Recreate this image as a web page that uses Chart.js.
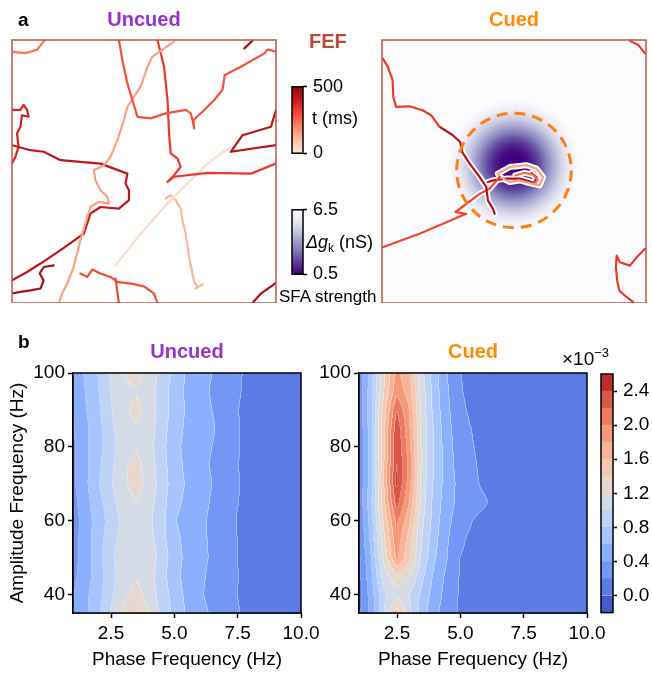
<!DOCTYPE html>
<html>
<head>
<meta charset="utf-8">
<script src="https://cdn.jsdelivr.net/npm/chart.js@4.4.1/dist/chart.umd.min.js"></script>
<style>
  html, body { margin: 0; padding: 0; background: #fff; }
  body { position: relative; width: 652px; height: 674px; overflow: hidden;
         font-family: "Liberation Sans", Arial, sans-serif; color: #000; }
  canvas { position: absolute; }
  .lbl { position: absolute; white-space: nowrap; line-height: 1; }
</style>
</head>
<body>
<canvas id="trajUncued" width="276" height="303" style="left:11px;top:0px"></canvas>
<canvas id="trajCued" width="276" height="303" style="left:381px;top:0px"></canvas>
<canvas id="cbarTime" width="94" height="100" style="left:286px;top:70px"></canvas>
<canvas id="cbarSfa" width="94" height="98" style="left:286px;top:193px"></canvas>
<canvas id="pacUncued" width="330" height="344" style="left:0px;top:330px"></canvas>
<canvas id="pacCued" width="320" height="344" style="left:290px;top:330px"></canvas>
<canvas id="cbarPac" width="62" height="290" style="left:590px;top:340px"></canvas>

<div class="lbl" style="left:18px;top:10px;font-size:19px;font-weight:bold">a</div>
<div class="lbl" style="left:18px;top:332px;font-size:19px;font-weight:bold">b</div>
<div class="lbl" style="left:309px;top:31px;font-size:20px;font-weight:bold;color:#b84a3e">FEF</div>
<div class="lbl" style="left:312px;top:109px;font-size:18px">t (ms)</div>
<div class="lbl" style="left:306px;top:233px;font-size:18px"><i>Δg</i><span style="font-size:12px;position:relative;top:4px">k</span> (nS)</div>
<div class="lbl" style="left:279px;top:288px;font-size:17px">SFA strength</div>
<div class="lbl" style="left:562px;top:349px;font-size:19px">×10<span style="font-size:13px;position:relative;top:-8px">−3</span></div>

<script>
// ---------- Panel a: activity-bump trajectories (sheet coords 0-100), colour = time (ms)
const uncuedTimes = [230, 290, 150, 330, 420, 380, 430, 35, 110, 300, 300, 470, 460, 470];
const uncuedPaths = [
  [[0,95.6],[2,95.3],[5,95],[9.5,96.3],[12,99.5],[12.5,100]],
  [[40.5,100],[41.8,92.4],[43.7,83.5],[45.6,77.2],[47.5,70.8],[52.5,70.2],[58.2,72.1],[65.8,73.4],[67.7,72.1],[68.4,69.5],[69,66.4],[68.7,69.5],[72.8,73.4],[76.6,77.2],[79.7,81],[80.6,86.7],[86.7,89.8],[95.6,94.9],[96.8,96.4],[100,95.6]],
  [[61.4,99.4],[53.2,93.7],[51.3,89.8],[48.7,82.2],[43.7,74.6],[42.4,69.5],[39.9,61.9],[37.3,55.6],[34.8,52.4],[31,50.5],[31.6,46.7],[33.5,42.9],[36.1,40.4],[36.7,37.8],[32.9,38.5],[29.7,36.5],[25.9,23.9],[23.4,13.7],[20.9,7.4],[19,3.6],[17.7,0]],
  [[55.1,100],[57.6,89.8],[58.9,77.2],[59.5,64.5],[60.1,56.9],[62.7,54.9],[63.9,51.8],[61.4,48.6],[58.9,46.1],[61.4,48],[74.1,49.5],[90.5,49.2],[100,53]],
  [[0,60],[7,58.1],[12,57.5],[18.4,54.3],[33.5,53],[43.7,49.2],[43,45.4],[44.3,42.9],[44.3,39.1],[40.5,35.9],[33.5,36.5],[29.7,34],[27.2,26.4],[18.4,20.1],[10.8,15],[5.7,11.8],[0,8.6]],
  [[0,73.4],[3.2,73.4],[4.4,75.3],[5.7,73.4],[6.3,70.8],[3.8,71.4],[3.2,67],[1.9,64.5],[2.5,59.4],[1.3,55.6],[0,53]],
  [[100,73.4],[98.1,67],[87.3,63.8],[82.9,57.5],[100,60]],
  [[39.2,14.3],[46.2,23.2],[53.8,32.1],[58.9,37.8],[61.4,40.4],[67.7,46.7],[74.1,53],[79.1,56.9],[82.3,58.8]],
  [[58.2,39.7],[60.1,41],[62,39.1],[63.9,35.9],[64.6,31.5],[65.8,26.4],[67.1,17.5],[69,8],[70.3,6.1],[72.2,7.1],[69.6,5.5]],
  [[25.9,11.2],[28.5,9.9],[30.4,12.7],[33.5,11.2],[37.3,9.9],[39.9,8],[44.9,7.4],[50,6.3],[53.8,3.6],[55.1,0]],
  [[39.2,9.3],[40.5,0]],
  [[0,3.6],[3.2,4.2],[7,4.8],[10.8,5.5],[12,8.6],[10.5,11.2],[12,13.7],[15.8,14.3]],
  [[91.1,0],[94.3,3.6],[100,7.6]],
  [[88,96.8],[91.1,99.7]]
];

const cuedTimes = [330, 440, 310, 150, 250, 460, 330, 320];
const cuedPaths = [
  [[0.3,93],[2.2,89.8],[4,84.8],[4.3,78.4],[5.3,74.6],[10.4,74.8],[15.4,73.3],[18.6,71.4],[21.8,67]],
  [[21.8,67],[26.8,63.8],[29.6,61.2],[30.4,57.4],[33.2,53],[37,47.9],[39.5,44.1],[40.1,39],[42,35.8],[42.7,33.9]],
  [[0.3,21.2],[14.2,26.3],[31.9,33.9],[27.8,34.6],[37,41.5],[40.8,43.5],[44.6,47.9]],
  [[43.9,49.2],[48.4,51.7],[54.7,52.4],[58.5,51.1],[61,47.9],[59.7,44.7],[55.9,45.6],[52.2,46.6],[48.4,46],[44.6,47.9],[43.9,49.2]],
  [[50.5,48.5],[54,49.5],[57,48.8],[59,47],[58,45.5]],
  [[40.1,46],[42,46.6],[47.1,47.3],[52.2,47.3],[54.7,46.6],[57.8,45.6],[58.5,47.9],[56.6,49.4]],
  [[99.6,20.6],[96.5,17.4],[93.9,14.2],[90.1,15.5],[88.9,18],[88.6,13.6],[89.1,8.5],[89.9,4.7],[92.7,2.2],[95.2,0.3]],
  [[93.9,99.7],[97.1,98.1],[99.6,94.9]]
];

// SFA field (Δg_k) and cue location in the cued trial
const blobCenter = [49.8, 52.5];
const blobRadius = 25;
const cueCenter = [50, 50.4];
const cueRadius = 21.7;

// colorbar ticks
const timeTicks = [0, 500];
const sfaTicks = [0.5, 6.5];

// ---------- Panel b: phase-amplitude coupling (×1e-3), rows = amplitude freq, cols = phase freq
const phaseFreqs = [1, 1.5, 2, 2.5, 3, 3.5, 4, 4.5, 5, 5.5, 6, 6.5, 7, 7.5, 8, 8.5, 9, 9.5, 10];
const ampFreqs = [35, 40, 45, 50, 55, 60, 65, 70, 75, 80, 85, 90, 95, 100];
const phaseTicks = [2.5, 5, 7.5, 10];
const ampTicks = [40, 60, 80, 100];

const pacUncued = [
  [0.40,0.55,0.75,1.00,1.25,1.45,1.20,0.95,0.75,0.58,0.45,0.38,0.32,0.22,0.12,0.10,0.10,0.10,0.10],
  [0.38,0.55,0.72,0.95,1.15,1.28,1.12,0.92,0.72,0.55,0.42,0.36,0.30,0.20,0.12,0.10,0.10,0.10,0.10],
  [0.35,0.50,0.70,0.92,1.10,1.18,1.10,0.88,0.68,0.52,0.44,0.36,0.30,0.21,0.12,0.10,0.10,0.10,0.10],
  [0.32,0.48,0.72,0.95,1.12,1.18,1.15,0.92,0.70,0.55,0.45,0.38,0.32,0.20,0.11,0.10,0.10,0.10,0.10],
  [0.30,0.50,0.70,0.92,1.08,1.15,1.08,0.88,0.66,0.54,0.45,0.37,0.31,0.20,0.11,0.10,0.10,0.10,0.10],
  [0.28,0.50,0.68,0.88,1.05,1.15,1.05,0.88,0.62,0.52,0.45,0.36,0.30,0.19,0.11,0.10,0.10,0.10,0.10],
  [0.32,0.52,0.72,0.92,1.10,1.20,1.08,0.90,0.66,0.56,0.48,0.38,0.31,0.21,0.12,0.10,0.10,0.10,0.10],
  [0.35,0.55,0.78,0.98,1.15,1.30,1.12,0.92,0.70,0.58,0.50,0.40,0.32,0.22,0.12,0.10,0.10,0.10,0.10],
  [0.35,0.55,0.75,0.95,1.15,1.28,1.10,0.90,0.68,0.56,0.47,0.38,0.30,0.21,0.12,0.10,0.10,0.10,0.10],
  [0.35,0.55,0.72,0.92,1.10,1.18,1.08,0.88,0.66,0.55,0.48,0.40,0.33,0.22,0.12,0.10,0.10,0.10,0.10],
  [0.38,0.55,0.72,0.95,1.12,1.18,1.10,0.90,0.70,0.56,0.50,0.42,0.34,0.22,0.12,0.10,0.10,0.10,0.10],
  [0.40,0.58,0.75,0.98,1.15,1.26,1.12,0.92,0.72,0.58,0.48,0.40,0.33,0.21,0.12,0.10,0.10,0.10,0.10],
  [0.42,0.60,0.78,1.00,1.15,1.18,1.10,0.90,0.72,0.56,0.47,0.38,0.32,0.23,0.13,0.10,0.10,0.10,0.10],
  [0.45,0.62,0.80,1.02,1.20,1.30,1.12,0.95,0.75,0.58,0.50,0.40,0.33,0.24,0.14,0.10,0.10,0.10,0.10]
];

const pacCued = [
  [0.15,0.45,1.00,1.50,1.05,0.70,0.45,0.30,0.18,0.12,0.10,0.08,0.08,0.08,0.08,0.08,0.08,0.08,0.08],
  [0.10,0.50,0.95,1.15,1.00,0.75,0.50,0.32,0.18,0.12,0.10,0.08,0.08,0.08,0.08,0.08,0.08,0.08,0.08],
  [0.12,0.55,1.10,1.35,1.20,0.85,0.55,0.35,0.19,0.12,0.10,0.08,0.08,0.08,0.08,0.08,0.08,0.08,0.08],
  [0.15,0.60,1.25,1.85,1.45,0.95,0.62,0.40,0.20,0.14,0.10,0.08,0.08,0.08,0.08,0.08,0.08,0.08,0.08],
  [0.18,0.65,1.35,1.95,1.50,1.00,0.66,0.42,0.24,0.15,0.11,0.08,0.08,0.08,0.08,0.08,0.08,0.08,0.08],
  [0.20,0.70,1.45,2.05,1.65,1.05,0.70,0.45,0.30,0.20,0.14,0.09,0.08,0.08,0.08,0.08,0.08,0.08,0.08],
  [0.22,0.75,1.55,2.30,1.80,1.10,0.72,0.48,0.34,0.26,0.22,0.10,0.08,0.08,0.08,0.08,0.08,0.08,0.08],
  [0.22,0.72,1.60,2.45,1.90,1.12,0.75,0.50,0.34,0.24,0.16,0.09,0.08,0.08,0.08,0.08,0.08,0.08,0.08],
  [0.20,0.70,1.60,2.42,1.95,1.15,0.78,0.48,0.32,0.23,0.14,0.09,0.08,0.08,0.08,0.08,0.08,0.08,0.08],
  [0.20,0.70,1.55,2.40,1.90,1.15,0.78,0.48,0.30,0.21,0.12,0.09,0.08,0.08,0.08,0.08,0.08,0.08,0.08],
  [0.22,0.72,1.55,2.35,1.85,1.15,0.76,0.46,0.28,0.19,0.11,0.08,0.08,0.08,0.08,0.08,0.08,0.08,0.08],
  [0.25,0.75,1.50,2.20,1.80,1.12,0.72,0.44,0.25,0.15,0.10,0.08,0.08,0.08,0.08,0.08,0.08,0.08,0.08],
  [0.25,0.72,1.40,1.95,1.70,1.10,0.70,0.42,0.22,0.13,0.10,0.08,0.08,0.08,0.08,0.08,0.08,0.08,0.08],
  [0.25,0.70,1.35,1.85,1.65,1.05,0.68,0.40,0.21,0.12,0.10,0.08,0.08,0.08,0.08,0.08,0.08,0.08,0.08]
];

const pacLevels = [-0.2, 0, 0.2, 0.4, 0.6, 0.8, 1.0, 1.2, 1.4, 1.6, 1.8, 2.0, 2.2, 2.4, 2.6];
const pacTicks = [0, 0.4, 0.8, 1.2, 1.6, 2.0, 2.4];

// ---------- colours
const bandColors = [
  [69,92,206],[92,123,229],[116,150,245],[141,176,254],[166,196,254],[190,211,246],[212,219,231],
  [230,215,207],[243,201,180],[247,180,151],[244,154,123],[234,123,96],[217,87,71],[194,43,48]
];
const redsStops = ['#fff5f0','#fee0d2','#fcbba1','#fc9272','#fb6a4a','#ef3b2c','#cb181d','#a50f15','#67000d'];
const sfaColors = ['#3f007d','#3f007d','#44087f','#522590','#654ea2','#8682bc','#aaa8d2','#cccbe3','#e6e4f0','#f5f3f9','#fcfbfd'];
const purplesStops = ['#3f007d','#54278f','#6a51a3','#807dba','#9e9ac8','#bcbddc','#dadaeb','#efedf5','#fcfbfd'];

const FONT = '"Liberation Sans", Arial, sans-serif';
Chart.defaults.font.family = FONT;
Chart.defaults.color = '#000';

function hexToRgb(h) {
  return [parseInt(h.slice(1, 3), 16), parseInt(h.slice(3, 5), 16), parseInt(h.slice(5, 7), 16)];
}

function sampleStops(stops, f) {
  f = Math.max(0, Math.min(1, f));
  const p = f * (stops.length - 1);
  const i = Math.min(Math.floor(p), stops.length - 2);
  const a = hexToRgb(stops[i]), b = hexToRgb(stops[i + 1]), k = p - i;
  return `rgb(${a.map((v, j) => Math.round(v + (b[j] - v) * k)).join(',')})`;
}

// time 0..500 ms -> Reds
function redsColor(t) {
  return sampleStops(redsStops, 0.08 + 0.84 * t / 500);
}

// ---------- shared plugins
const boxFrame = (color, width) => ({
  id: 'boxFrame',
  afterDraw(chart) {
    const {ctx, chartArea: a} = chart;
    ctx.save();
    ctx.strokeStyle = color;
    ctx.lineWidth = width;
    ctx.strokeRect(a.left, a.top, a.right - a.left, a.bottom - a.top);
    ctx.restore();
  }
});

// SFA field + cue circle for the cued trial
const sfaField = {
  id: 'sfaField',
  beforeDatasetsDraw(chart) {
    const {ctx, chartArea: a, scales: {x, y}} = chart;
    ctx.save();
    ctx.fillStyle = sfaColors[sfaColors.length - 1];
    ctx.fillRect(a.left, a.top, a.right - a.left, a.bottom - a.top);
    const cx = x.getPixelForValue(blobCenter[0]);
    const cy = y.getPixelForValue(blobCenter[1]);
    const r = x.getPixelForValue(blobCenter[0] + blobRadius) - cx;
    const g = ctx.createRadialGradient(cx, cy, 0, cx, cy, r);
    sfaColors.forEach((c, i) => g.addColorStop(i / (sfaColors.length - 1), c));
    ctx.fillStyle = g;
    ctx.beginPath();
    ctx.arc(cx, cy, r, 0, Math.PI * 2);
    ctx.fill();
    ctx.restore();
  },
  afterDatasetsDraw(chart) {
    const {ctx, scales: {x, y}} = chart;
    const cx = x.getPixelForValue(cueCenter[0]);
    const cy = y.getPixelForValue(cueCenter[1]);
    const r = x.getPixelForValue(cueCenter[0] + cueRadius) - cx;
    ctx.save();
    ctx.strokeStyle = '#ff7f0e';
    ctx.lineWidth = 3;
    ctx.setLineDash([11, 7]);
    ctx.beginPath();
    ctx.arc(cx, cy, r, 0, Math.PI * 2);
    ctx.stroke();
    ctx.restore();
  }
};

function trajDatasets(paths, times, halo) {
  const sets = [];
  paths.forEach((p, i) => {
    const pts = p.map(([x, y]) => ({x, y}));
    if (halo) sets.push({data: pts, borderColor: '#ffffff', borderWidth: 6, order: 1, clip: 0});
    sets.push({data: pts, borderColor: redsColor(times[i]), borderWidth: 2.2, order: 0, clip: 0});
  });
  return sets;
}

function trajChart(id, title, color, paths, times, cued) {
  return new Chart(document.getElementById(id), {
    type: 'line',
    data: {datasets: trajDatasets(paths, times, cued)},
    options: {
      responsive: false, animation: false, events: [],
      layout: {padding: {left: 1, right: 11, bottom: 0}},
      elements: {
        point: {radius: 0},
        line: {tension: 0, borderJoinStyle: 'round', borderCapStyle: 'round'}
      },
      scales: {
        x: {type: 'linear', min: 0, max: 100, display: false},
        y: {type: 'linear', min: 0, max: 100, display: false}
      },
      plugins: {
        legend: {display: false},
        tooltip: {enabled: false},
        title: {display: true, text: title, color, font: {size: 20, weight: 'bold'}, padding: {top: 8, bottom: 8}}
      }
    },
    plugins: cued ? [sfaField, boxFrame('#bf5549', 1.5)] : [boxFrame('#bf5549', 1.5)]
  });
}

// gradient colour bar (t and Δg)
function gradientBar(id, stops, min, max, ticks, fmt, padTop, padBottom) {
  const fill = {
    id: 'gradFill',
    beforeDatasetsDraw(chart) {
      const {ctx, chartArea: a, scales: {y}} = chart;
      const g = ctx.createLinearGradient(0, y.getPixelForValue(min), 0, y.getPixelForValue(max));
      stops.forEach((c, i) => g.addColorStop(i / (stops.length - 1), c));
      ctx.save();
      ctx.fillStyle = g;
      ctx.fillRect(a.left, a.top, a.right - a.left, a.bottom - a.top);
      ctx.restore();
    }
  };
  return new Chart(document.getElementById(id), {
    type: 'scatter',
    data: {datasets: []},
    options: {
      responsive: false, animation: false, events: [],
      layout: {padding: {left: 6, top: padTop, bottom: padBottom}},
      plugins: {legend: {display: false}, tooltip: {enabled: false}},
      scales: {
        x: {display: false, min: 0, max: 1},
        y: {
          position: 'right', min, max,
          afterBuildTicks: s => { s.ticks = ticks.map(v => ({value: v})); },
          afterFit: s => { s.width = 77; },
          ticks: {callback: fmt, font: {size: 18}, color: '#000', padding: 6},
          grid: {drawOnChartArea: false, drawTicks: true, tickLength: 4, tickWidth: 1.5, tickColor: '#000'},
          border: {display: false}
        }
      }
    },
    plugins: [fill, boxFrame('#000', 1.5)]
  });
}

// ---------- panel b: filled contours
function locate(arr, v) {
  let i = 0;
  while (i < arr.length - 2 && v > arr[i + 1]) i++;
  const f = Math.max(0, Math.min(1, (v - arr[i]) / (arr[i + 1] - arr[i])));
  return [i, i + 1, f];
}

function bandOf(v) {
  let b = 0;
  while (b < pacLevels.length - 2 && v >= pacLevels[b + 1]) b++;
  return b;
}

function contourPlugin(values) {
  return {
    id: 'contourFill',
    beforeDatasetsDraw(chart) {
      const {ctx, chartArea: a, scales: {x, y}} = chart;
      const x0 = Math.round(a.left), y0 = Math.round(a.top);
      const w = Math.round(a.right) - x0, h = Math.round(a.bottom) - y0;
      const bands = new Int16Array(w * h);
      for (let j = 0; j < h; j++) {
        const [r0, r1, fy] = locate(ampFreqs, y.getValueForPixel(y0 + j + 0.5));
        for (let i = 0; i < w; i++) {
          const [c0, c1, fx] = locate(phaseFreqs, x.getValueForPixel(x0 + i + 0.5));
          const lo = values[r0][c0] * (1 - fx) + values[r0][c1] * fx;
          const hi = values[r1][c0] * (1 - fx) + values[r1][c1] * fx;
          bands[j * w + i] = bandOf(lo * (1 - fy) + hi * fy);
        }
      }
      const img = ctx.createImageData(w, h);
      for (let k = 0; k < w * h; k++) {
        const b = bands[k];
        const edge = ((k % w) < w - 1 && bands[k + 1] !== b) || (k + w < w * h && bands[k + w] !== b);
        const c = bandColors[b];
        const m = edge ? 0.3 : 0;
        img.data[4 * k] = c[0] + (255 - c[0]) * m;
        img.data[4 * k + 1] = c[1] + (255 - c[1]) * m;
        img.data[4 * k + 2] = c[2] + (255 - c[2]) * m;
        img.data[4 * k + 3] = 255;
      }
      ctx.putImageData(img, x0, y0);
    }
  };
}

function pacChart(id, title, color, values, yWidth, padRight, yTitle) {
  const tickGrid = {drawOnChartArea: false, drawTicks: true, tickLength: 5, tickWidth: 1.5, tickColor: '#000'};
  return new Chart(document.getElementById(id), {
    type: 'scatter',
    data: {datasets: []},
    options: {
      responsive: false, animation: false, events: [],
      layout: {padding: {right: padRight}},
      plugins: {
        legend: {display: false},
        tooltip: {enabled: false},
        title: {display: true, text: title, color, fullSize: false, font: {size: 20, weight: 'bold'}, padding: {top: 10, bottom: 9}}
      },
      scales: {
        x: {
          type: 'linear', min: 1, max: 10,
          afterBuildTicks: s => { s.ticks = phaseTicks.map(v => ({value: v})); },
          afterFit: s => { s.height = 61; },
          ticks: {callback: v => v.toFixed(1), font: {size: 19}, color: '#000', padding: 4, maxRotation: 0},
          grid: tickGrid,
          border: {display: true, color: '#000', width: 1.5},
          title: {display: true, text: 'Phase Frequency (Hz)', font: {size: 19}, color: '#000', padding: {top: 0, bottom: 3}}
        },
        y: {
          type: 'linear', min: 35, max: 100,
          afterBuildTicks: s => { s.ticks = ampTicks.map(v => ({value: v})); },
          afterFit: s => { s.width = yWidth; },
          ticks: {font: {size: 19}, color: '#000', padding: 3},
          grid: tickGrid,
          border: {display: true, color: '#000', width: 1.5},
          title: {display: yTitle, text: 'Amplitude Frequency (Hz)', font: {size: 19}, color: '#000', padding: {top: 6, bottom: 0}}
        }
      }
    },
    plugins: [contourPlugin(values), boxFrame('#000', 1.5)]
  });
}

// discrete colour bar for panel b, one floating bar per contour band
function pacColorbar(id) {
  const datasets = bandColors.map((c, i) => ({
    data: [[pacLevels[i], pacLevels[i + 1]]],
    backgroundColor: `rgb(${c.join(',')})`,
    borderWidth: 0,
    barPercentage: 1,
    categoryPercentage: 1
  }));
  return new Chart(document.getElementById(id), {
    type: 'bar',
    data: {labels: ['PAC'], datasets},
    options: {
      responsive: false, animation: false, events: [],
      layout: {padding: {left: 11, top: 34, bottom: 17}},
      plugins: {legend: {display: false}, tooltip: {enabled: false}},
      scales: {
        x: {display: false, stacked: true},
        y: {
          position: 'right', stacked: false,
          min: pacLevels[0], max: pacLevels[pacLevels.length - 1],
          afterBuildTicks: s => { s.ticks = pacTicks.map(v => ({value: v})); },
          afterFit: s => { s.width = 39; },
          ticks: {callback: v => v.toFixed(1), font: {size: 19}, color: '#000', padding: 6},
          grid: {drawOnChartArea: false, drawTicks: true, tickLength: 4, tickWidth: 1.5, tickColor: '#000'},
          border: {display: false}
        }
      }
    },
    plugins: [boxFrame('#000', 1.5)]
  });
}

trajChart('trajUncued', 'Uncued', '#9932cc', uncuedPaths, uncuedTimes, false);
trajChart('trajCued', 'Cued', '#ff8c00', cuedPaths, cuedTimes, true);
gradientBar('cbarTime', [0, 100, 200, 300, 400, 500].map(redsColor), 0, 500, timeTicks, v => String(v), 9, 11);
gradientBar('cbarSfa', purplesStops, 0.5, 6.5, sfaTicks, v => v.toFixed(1), 10, 11);
pacChart('pacUncued', 'Uncued', '#9932cc', pacUncued, 73, 29, true);
pacChart('pacCued', 'Cued', '#ff8c00', pacCued, 69, 23, false);
pacColorbar('cbarPac');
</script>
</body>
</html>
